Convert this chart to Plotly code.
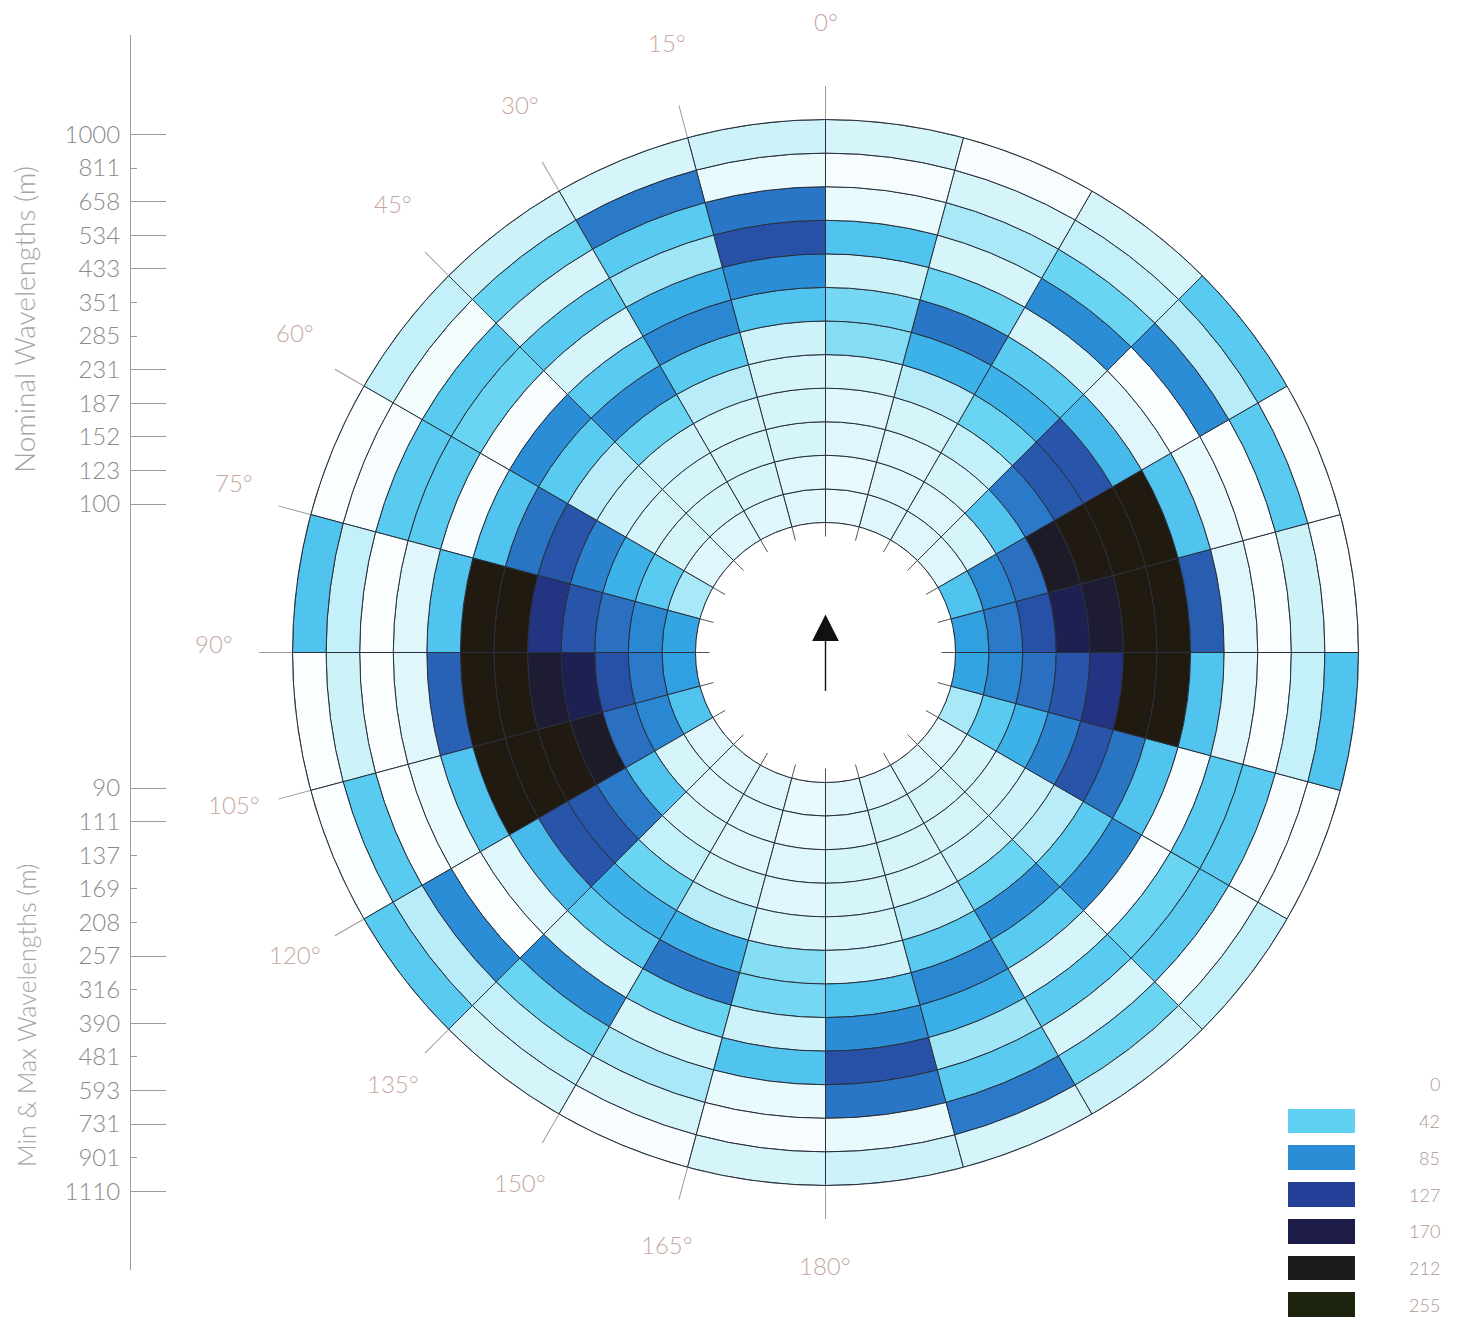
import math
import plotly.graph_objects as go

# ---------------- data (values 0-255 per cell, listed inner ring -> outer ring) -------------
dir_000 = [15, 15, 18, 18, 18, 20, 50, 85, 115, 97, 12, 20]
dir_015 = [15, 18, 18, 18, 25, 45, 88, 62, 30, 45, 95, 18]
dir_030 = [15, 18, 18, 20, 40, 85, 45, 18, 45, 18, 40, 20]
dir_045 = [15, 18, 18, 20, 25, 45, 85, 5, 40, 45, 8, 22]
dir_060 = [28, 45, 60, 90, 112, 98, 50, 5, 45, 45, 5, 3]
dir_075 = [68, 88, 100, 112, 140, 240, 240, 50, 15, 3, 22, 50]
dir_090 = [72, 95, 115, 165, 190, 240, 240, 106, 15, 3, 20, 3]
dir_105 = [50, 88, 100, 200, 235, 240, 240, 50, 12, 3, 45, 3]
dir_120 = [15, 18, 50, 95, 110, 112, 55, 15, 3, 85, 25, 45]
dir_135 = [15, 15, 18, 22, 40, 60, 45, 18, 85, 40, 22, 18]
dir_150 = [15, 15, 15, 18, 25, 60, 97, 40, 18, 28, 18, 5]
dir_165 = [12, 12, 15, 15, 18, 35, 38, 20, 50, 12, 5, 18]
dir_180 = [15, 15, 18, 18, 18, 20, 50, 85, 115, 97, 12, 20]
dir_195 = [15, 18, 18, 18, 25, 45, 88, 62, 30, 45, 95, 18]
dir_210 = [15, 18, 18, 20, 40, 85, 45, 18, 45, 18, 40, 20]
dir_225 = [15, 18, 18, 20, 25, 45, 85, 5, 40, 45, 8, 22]
dir_240 = [28, 45, 60, 90, 112, 98, 50, 5, 45, 45, 5, 3]
dir_255 = [68, 88, 100, 112, 140, 240, 240, 50, 15, 3, 22, 50]
dir_270 = [72, 95, 115, 165, 190, 240, 240, 108, 15, 3, 20, 3]
dir_285 = [50, 88, 100, 200, 235, 240, 240, 50, 12, 3, 45, 3]
dir_300 = [15, 18, 50, 95, 110, 112, 55, 15, 3, 85, 25, 45]
dir_315 = [15, 15, 18, 22, 40, 60, 45, 18, 85, 40, 22, 18]
dir_330 = [15, 15, 15, 18, 25, 60, 97, 40, 18, 28, 18, 5]
dir_345 = [12, 12, 15, 15, 18, 35, 38, 20, 50, 12, 5, 18]

sector_starts = [0, 15, 30, 45, 60, 75, 90, 105, 120, 135, 150, 165,
                 180, 195, 210, 225, 240, 255, 270, 285, 300, 315, 330, 345]
sectors = [dir_000, dir_015, dir_030, dir_045, dir_060, dir_075, dir_090, dir_105,
           dir_120, dir_135, dir_150, dir_165, dir_180, dir_195, dir_210, dir_225,
           dir_240, dir_255, dir_270, dir_285, dir_300, dir_315, dir_330, dir_345]

nominal_wavelengths = [100, 123, 152, 187, 231, 285, 351, 433, 534, 658, 811, 1000]
nominal_long_ticks = [100, 123, 152, 187, 231, 433, 534, 658, 1000]
minmax_wavelengths = [90, 111, 137, 169, 208, 257, 316, 390, 481, 593, 731, 901, 1110]
minmax_long_ticks = [90, 111, 257, 390, 593, 731, 1110]
angle_labels = [0, 15, 30, 45, 60, 75, 90, 105, 120, 135, 150, 165, 180]
legend_levels = [0, 42, 85, 127, 170, 212, 255]

# ---------------- geometry / style ----------------
OFF = 8                        # page body margin of the html page
W, H = 1459 - OFF, 1323 - OFF
CX_REF, CY_REF = 825.5, 652.5  # circle centre in page pixels
R_OUT, R_IN = 533.0, 130.0
N_RINGS = 12
RING_W = (R_OUT - R_IN) / N_RINGS
SECTOR_W = 15

# left wavelength axis scale (page pixels)
AXIS_ZERO = 646.0
AXIS_INNER = 142.0
AXIS_STEP = 33.6
AX_TOP, AX_BOT = 35, 1270

# angle label ellipse
LAB_RX, LAB_RY, LAB_DY = 612.0, 622.0, -9.0


def px(x):   # page pixel -> paper x
    return (x - OFF) / W


def py(y):   # page pixel -> paper y
    return 1 - (y - OFF) / H


FONT = "Lato, 'DejaVu Sans', sans-serif"
WEIGHT = 300
LINE_COL = "#28303e"
ANGLE_COL = "#c6a89f"
AXIS_COL = "#9c9c9c"

CS = [
    [0 / 255, "#ffffff"], [10 / 255, "#effbfd"], [18 / 255, "#d6f5fa"],
    [30 / 255, "#a0e6f6"], [42 / 255, "#5fd0f2"], [64 / 255, "#36abe6"],
    [85 / 255, "#2a8dd5"], [97 / 255, "#2a76c6"], [110 / 255, "#2858ac"],
    [127 / 255, "#243f98"], [145 / 255, "#22307a"], [170 / 255, "#1d1c48"],
    [212 / 255, "#1e1b1c"], [240 / 255, "#211a10"], [255 / 255, "#1c2410"],
]

theta, base, vals = [], [], []
for start, col in zip(sector_starts, sectors):
    for k, v in enumerate(col):
        theta.append(start + SECTOR_W / 2)
        base.append(k)
        vals.append(v)

fig = go.Figure()
fig.add_trace(go.Barpolar(
    theta=theta, r=[1] * len(theta), base=base, width=[SECTOR_W] * len(theta),
    marker=dict(color=vals, colorscale=CS, cmin=0, cmax=255,
                line=dict(color=LINE_COL, width=1)),
    showlegend=False, hoverinfo="skip",
))

# left wavelength axis (values = page-pixel offset above AXIS_ZERO)
upper_vals = [AXIS_INNER + k * AXIS_STEP for k in range(len(nominal_wavelengths))]
lower_vals = [-(AXIS_INNER + j * AXIS_STEP) for j in range(len(minmax_wavelengths))]
tickvals = upper_vals + lower_vals
ticktext = [str(v) for v in nominal_wavelengths] + [str(v) for v in minmax_wavelengths]
long_vals = [upper_vals[nominal_wavelengths.index(v)] for v in nominal_long_ticks] + \
            [lower_vals[minmax_wavelengths.index(v)] for v in minmax_long_ticks]
yrange = [AXIS_ZERO - AX_BOT, AXIS_ZERO - AX_TOP]
ydom = [py(AX_BOT), py(AX_TOP)]

fig.add_trace(go.Scatter(x=[None], y=[None], xaxis="x", yaxis="y", showlegend=False, hoverinfo="skip"))
fig.add_trace(go.Scatter(x=[None], y=[None], xaxis="x", yaxis="y3", showlegend=False, hoverinfo="skip"))

# legend key
fig.add_trace(go.Heatmap(
    z=[[v] for v in legend_levels], x=[0], y=list(range(len(legend_levels))),
    colorscale=CS, zmin=0, zmax=255, showscale=False, ygap=12,
    xaxis="x2", yaxis="y2", hoverinfo="skip",
))

annotations = []
for i, lv in enumerate(legend_levels):
    annotations.append(dict(x=px(1442), xref="paper", xanchor="right", y=i, yref="y2",
                            yanchor="middle", text=str(lv), showarrow=False,
                            font=dict(family=FONT, size=18, color="#ad978f", weight=WEIGHT)))

# angle labels outside the circle
for a in angle_labels:
    t = math.radians(a)
    lx = CX_REF - LAB_RX * math.sin(t)
    ly = CY_REF + LAB_DY - LAB_RY * math.cos(t)
    annotations.append(dict(x=px(lx), y=py(ly), xref="paper", yref="paper",
                            xanchor="center", yanchor="middle", text=f"{a}°",
                            showarrow=False,
                            font=dict(family=FONT, size=24, color=ANGLE_COL, weight=WEIGHT)))

annotations.append(dict(x=px(24), y=py(320), xref="paper", yref="paper",
                        xanchor="center", yanchor="middle",
                        text="Nominal Wavelengths (m)", textangle=-90, showarrow=False,
                        font=dict(family=FONT, size=28, color="#a4a4a4", weight=WEIGHT)))
annotations.append(dict(x=px(26), y=py(1015), xref="paper", yref="paper",
                        xanchor="center", yanchor="middle",
                        text="Min &amp; Max Wavelengths (m)", textangle=-90, showarrow=False,
                        font=dict(family=FONT, size=25, color="#a4a4a4", weight=WEIGHT)))
# north arrow at the centre
annotations.append(dict(x=px(CX_REF), y=py(CY_REF - 38), xref="paper", yref="paper",
                        ax=0, ay=78, text="", showarrow=True, arrowhead=2,
                        arrowsize=3.8, arrowwidth=1.4, arrowcolor="#111111"))

# short spoke ticks reaching into the hole
shapes = []
for a in range(0, 360, SECTOR_W):
    t = math.radians(a)
    r0, r1 = R_IN, R_IN - 14
    shapes.append(dict(type="line", xref="paper", yref="paper",
                       x0=px(CX_REF - r0 * math.sin(t)), y0=py(CY_REF - r0 * math.cos(t)),
                       x1=px(CX_REF - r1 * math.sin(t)), y1=py(CY_REF - r1 * math.cos(t)),
                       line=dict(color="#555555", width=1)))

fig.update_layout(
    width=W, height=H, margin=dict(l=0, r=0, t=0, b=0),
    paper_bgcolor="white", plot_bgcolor="white",
    font=dict(family=FONT, weight=WEIGHT),
    showlegend=False,
    polar=dict(
        domain=dict(x=[px(CX_REF - R_OUT), px(CX_REF + R_OUT)],
                    y=[py(CY_REF + R_OUT), py(CY_REF - R_OUT)]),
        hole=R_IN / R_OUT, bgcolor="white", barmode="overlay",
        radialaxis=dict(range=[0, N_RINGS], visible=False, showgrid=False),
        angularaxis=dict(rotation=90, direction="counterclockwise",
                         tickmode="array", tickvals=angle_labels,
                         ticks="outside", ticklen=33, tickwidth=1, tickcolor=AXIS_COL,
                         showticklabels=False, showgrid=False,
                         showline=True, linecolor=LINE_COL, linewidth=1),
    ),
    xaxis=dict(domain=[0, 0.09], range=[0, 1], visible=False),
    yaxis=dict(anchor="free", position=px(130), domain=ydom, range=yrange,
               tickmode="array", tickvals=tickvals, ticktext=ticktext,
               ticks="inside", ticklen=6, tickwidth=1, tickcolor=AXIS_COL,
               ticklabelstandoff=5,
               showline=True, linecolor=AXIS_COL, linewidth=1,
               showgrid=False, zeroline=False,
               tickfont=dict(family=FONT, size=24, color="#8a8a8a", weight=WEIGHT)),
    yaxis3=dict(overlaying="y", anchor="free", position=px(130), range=yrange,
                tickmode="array", tickvals=long_vals, ticks="inside", ticklen=35,
                tickwidth=1, tickcolor=AXIS_COL, showticklabels=False,
                showline=False, showgrid=False, zeroline=False),
    xaxis2=dict(domain=[px(1288), px(1355)], range=[-0.5, 0.5], visible=False, anchor="y2"),
    yaxis2=dict(domain=[0, 257 / H], range=[6.5, -0.5], visible=False, anchor="x2"),
    annotations=annotations,
    shapes=shapes,
)

fig.write_html("out.html")
